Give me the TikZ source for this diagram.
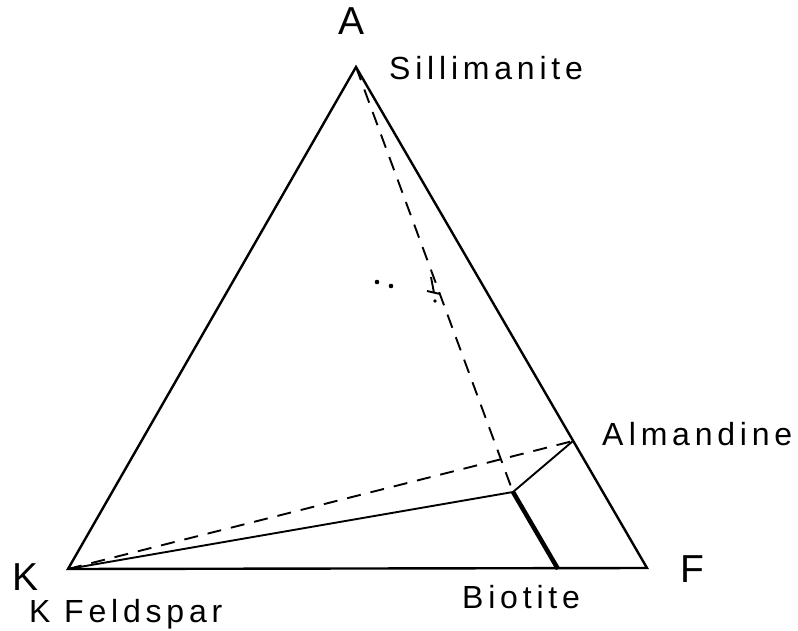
\documentclass[tikz,border=0pt]{standalone}
\usepackage{fontspec}
\setmainfont{Liberation Sans}
\newfontfamily\lblfont[LetterSpace=15]{Liberation Sans}
\begin{document}
\begin{tikzpicture}[x=1pt,y=-1pt,
  edge/.style={line width=2.4pt, line join=miter},
  dline/.style={line width=1.9pt, dash pattern=on 14pt off 10pt},
  thin/.style={line width=1.9pt},
  thick/.style={line width=4.5pt},
  big/.style={font=\fontsize{39}{42}\selectfont, inner sep=0pt, anchor=base west},
  lbl/.style={font=\fontsize{32}{35}\selectfont\lblfont, inner sep=0pt, anchor=base west}]
\useasboundingbox (0,0) rectangle (798,631);
\coordinate (A) at (356,67);
\coordinate (K) at (68,569);
\coordinate (F) at (647,568);
\coordinate (Alm) at (573,441);
\coordinate (J) at (513,492);
\coordinate (Bio) at (558,569);
% triangle
\draw[edge] (A) -- (F) -- (K) -- cycle;
% dashed tie lines
\draw[dline] (A) -- (J);
\draw[dline] (K) -- (Alm);
% solid tie lines
\draw[thin] (K) -- (J);
\draw[thin] (J) -- (Alm);
\draw[thick] (J) -- (Bio);
% small marks
\fill (377,282) circle (2.3pt);
\fill (391,286) circle (2.3pt);
\draw[thin] (431,277) -- (434,293);
\draw[thin] (427,291) -- (440,294);
\fill (435,301) circle (1.8pt);
% labels
\node[big] (lA) at (338,35) {A};
\node[big] (lK) at (12,590) {K};
\node[big] (lF) at (680,582) {F};
\node[lbl] (lSil) at (389,80) {Sillimanite};
\node[lbl] (lAlm) at (602,445) {A\,lmandine};
\node[lbl] (lKf) at (29,622) {K Feldspar};
\node[lbl] (lBio) at (462,608) {Biotite};
\end{tikzpicture}
\end{document}
